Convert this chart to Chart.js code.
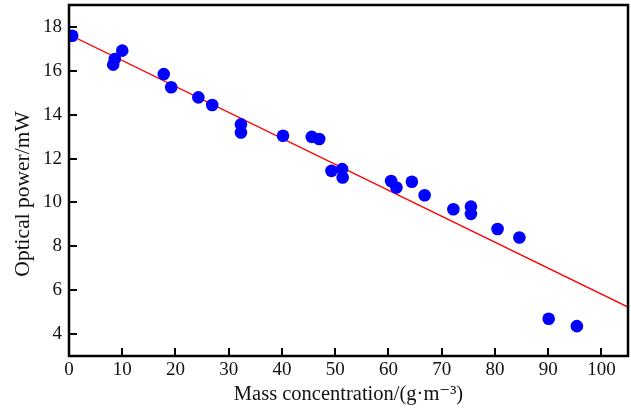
<!DOCTYPE html>
<html>
<head>
<meta charset="utf-8">
<script src="https://cdn.jsdelivr.net/npm/chart.js@4/dist/chart.umd.min.js"></script>
<style>
  html, body { margin: 0; padding: 0; background: #fff; }
  #wrap { width: 631px; height: 410px; }
</style>
</head>
<body>
<div id="wrap"><canvas id="chart"></canvas></div>
<script>
// measured points (mass concentration, optical power)
const massConc = [0.6, 8.3, 8.6, 10.0, 17.8, 19.2, 24.3, 26.9, 32.3, 32.3, 40.2, 45.6, 47.0, 49.3,
  51.3, 51.4, 60.5, 61.5, 64.4, 66.8, 72.2, 75.5, 75.5, 80.5, 84.6, 90.1, 95.4];
const opticalPower = [17.6, 16.28, 16.54, 16.92, 15.85, 15.25, 14.79, 14.44, 13.56, 13.19, 13.04, 12.99, 12.89, 11.44,
  11.52, 11.14, 10.98, 10.68, 10.94, 10.33, 9.69, 9.81, 9.48, 8.79, 8.40, 4.70, 4.36];

// fitted line end points
const fitX = [0, 105];
const fitY = [17.65, 5.23];

const xTicks = [0, 10, 20, 30, 40, 50, 60, 70, 80, 90, 100];
const yTicks = [4, 6, 8, 10, 12, 14, 16, 18];

const serif = "'Liberation Serif', 'DejaVu Serif', serif";

// frame box + inward tick marks
const framePlugin = {
  id: 'frame',
  afterDraw(chart) {
    const ctx = chart.ctx;
    const a = chart.chartArea;
    const xs = chart.scales.x, ys = chart.scales.y;
    ctx.save();
    ctx.strokeStyle = '#000';
    ctx.lineWidth = 2;
    xTicks.forEach(v => {
      const px = Math.round(xs.getPixelForValue(v));
      if (v === 0) return;
      ctx.beginPath();
      ctx.moveTo(px, a.bottom);
      ctx.lineTo(px, a.bottom - 8);
      ctx.stroke();
    });
    yTicks.forEach(v => {
      const py = Math.round(ys.getPixelForValue(v));
      ctx.beginPath();
      ctx.moveTo(a.left, py);
      ctx.lineTo(a.left + 8, py);
      ctx.stroke();
    });
    ctx.lineWidth = 2.5;
    ctx.strokeRect(a.left, a.top, a.right - a.left, a.bottom - a.top);
    ctx.restore();
  }
};

new Chart(document.getElementById('chart').getContext('2d'), {
  type: 'scatter',
  data: {
    datasets: [
      {
        label: 'Fit',
        type: 'line',
        data: fitX.map((x, i) => ({ x: x, y: fitY[i] })),
        borderColor: '#ff0000',
        borderWidth: 1.3,
        pointRadius: 0,
        fill: false,
        order: 2
      },
      {
        label: 'Measured',
        data: massConc.map((x, i) => ({ x: x, y: opticalPower[i] })),
        backgroundColor: '#0000ff',
        borderColor: '#0000ff',
        borderWidth: 0,
        pointRadius: 6.3,
        order: 1
      }
    ]
  },
  options: {
    responsive: true,
    maintainAspectRatio: false,
    animation: false,
    layout: { padding: 0, autoPadding: false },
    plugins: {
      legend: { display: false },
      tooltip: { enabled: false }
    },
    scales: {
      x: {
        type: 'linear',
        min: 0,
        max: 105,
        afterBuildTicks: s => { s.ticks = xTicks.map(v => ({ value: v })); },
        afterFit: s => { s.height = 54; s.paddingLeft = 0; s.paddingRight = 3; },
        grid: { display: false, drawTicks: false },
        border: { display: false },
        ticks: {
          color: '#111',
          padding: 3,
          maxRotation: 0,
          font: { family: serif, size: 19 }
        },
        title: {
          display: true,
          text: 'Mass concentration/(g·m⁻³)',
          color: '#111',
          padding: { top: 0, bottom: 3 },
          font: { family: serif, size: 20.5 }
        }
      },
      y: {
        type: 'linear',
        min: 3,
        max: 19,
        afterBuildTicks: s => { s.ticks = yTicks.map(v => ({ value: v })); },
        afterFit: s => { s.width = 69; s.paddingTop = 5; s.paddingBottom = 0; },
        grid: { display: false, drawTicks: false },
        border: { display: false },
        ticks: {
          color: '#111',
          padding: 7,
          font: { family: serif, size: 19 }
        },
        title: {
          display: true,
          text: 'Optical power/mW     ',
          color: '#111',
          padding: { top: 10, bottom: 0 },
          font: { family: serif, size: 21.5 }
        }
      }
    }
  },
  plugins: [framePlugin]
});
</script>
</body>
</html>
